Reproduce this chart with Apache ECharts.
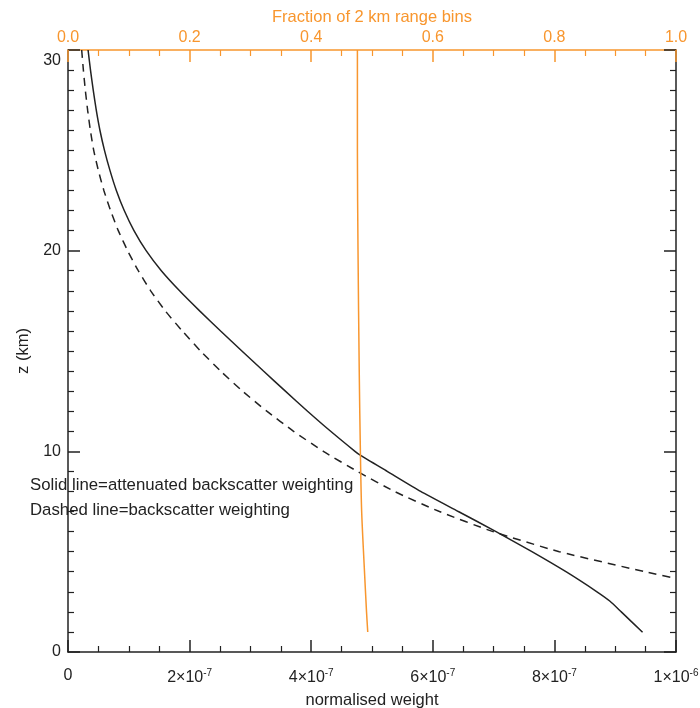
<!DOCTYPE html>
<html>
<head>
<meta charset="utf-8">
<script src="https://cdn.jsdelivr.net/npm/echarts@6/dist/echarts.min.js"></script>
<style>
  html, body { margin: 0; padding: 0; background: #fff; }
  #chart { width: 700px; height: 708px; }
</style>
</head>
<body>
<div id="chart"></div>
<script>
// weights are in units of 1e-7, heights in km
const solidZ = [30, 29, 28, 27, 26, 25, 24, 23, 22, 21, 20, 19, 18, 17, 16, 15, 14, 13, 12, 11, 10, 9.82, 9, 8, 7, 6, 5, 4, 3, 2.54, 2, 0.98]
const solidW = [0.33, 0.37, 0.415, 0.465, 0.525, 0.60, 0.69, 0.795, 0.925, 1.085, 1.285, 1.535, 1.835, 2.165, 2.51, 2.86, 3.215, 3.575, 3.94, 4.32, 4.72, 4.80, 5.25, 5.80, 6.42, 7.04, 7.63, 8.19, 8.70, 8.91, 9.10, 9.45]

const dashedZ = [30, 29, 28, 27, 26, 25, 24, 23, 22, 21, 20, 19, 18, 17, 16, 15, 14, 13, 12, 11, 10, 9, 8, 7, 6, 5, 4, 3.66]
const dashedW = [0.225, 0.253, 0.285, 0.323, 0.368, 0.423, 0.499, 0.59, 0.70, 0.827, 0.98, 1.156, 1.36, 1.60, 1.88, 2.18, 2.51, 2.87, 3.27, 3.71, 4.20, 4.76, 5.37, 6.11, 6.99, 8.08, 9.49, 10.0]

const fracZ = [1.0, 2, 4.4, 7, 9.8, 14, 20, 25, 30]
const fracV = [0.493, 0.491, 0.487, 0.483, 0.481, 0.479, 0.477, 0.476, 0.476]

const weightTicks = [0, 2, 4, 6, 8, 10]
const weightTickLabels = ['0', '2×10^-7', '4×10^-7', '6×10^-7', '8×10^-7', '1×10^-6']

const orange = '#F8962E'
const ink = '#222'
const font = 'Liberation Sans, Arial, Helvetica, sans-serif'

function pairs(xs, ys) {
  return xs.map((x, i) => [x, ys[i]])
}

function weightLabel(v) {
  const i = weightTicks.indexOf(Math.round(v))
  if (i < 0) return ''
  const parts = weightTickLabels[i].split('^')
  return parts.length > 1 ? parts[0] + '{e|' + parts[1] + '}' : parts[0]
}

function frame(color) {
  return {
    nameMoveOverlap: false,
    axisLine: { show: true, onZero: false, lineStyle: { color: color, width: 1.5 } },
    axisTick: { show: true, inside: true, length: 12, lineStyle: { color: color, width: 1.5 } },
    splitLine: { show: false }
  }
}

const chart = echarts.init(document.getElementById('chart'))

chart.setOption({
  animation: false,
  textStyle: { fontFamily: font },
  grid: { left: 68, right: 24, top: 50, bottom: 56, outerBoundsMode: 'none', containLabel: false },
  xAxis: [{
    type: 'value',
    position: 'bottom',
    min: 0,
    max: 10,
    interval: 2,
    name: 'normalised weight',
    nameLocation: 'middle',
    nameGap: 40,
    nameTextStyle: { color: ink, fontSize: 16.5 },
    ...frame(ink),
    minorTick: { show: true, splitNumber: 4, length: 6, lineStyle: { color: ink, width: 1.2 } },
    axisLabel: {
      color: ink,
      fontSize: 16,
      margin: 16,
      formatter: weightLabel,
      rich: {
        e: { fontSize: 10, verticalAlign: 'top', padding: [0, 0, 9, 0] }
      }
    }
  }, {
    type: 'value',
    position: 'top',
    min: 0,
    max: 1,
    interval: 0.2,
    name: 'Fraction of 2 km range bins',
    nameLocation: 'middle',
    nameGap: 24,
    nameTextStyle: { color: orange, fontSize: 16.5 },
    ...frame(orange),
    minorTick: { show: true, splitNumber: 4, length: 6, lineStyle: { color: orange, width: 1.2 } },
    axisLabel: {
      color: orange,
      fontSize: 16,
      margin: 4,
      formatter: v => v.toFixed(1)
    }
  }],
  yAxis: [{
    type: 'value',
    position: 'left',
    min: 0,
    max: 30,
    interval: 10,
    name: 'z (km)',
    nameLocation: 'middle',
    nameGap: 36,
    nameTextStyle: { color: ink, fontSize: 16.5 },
    ...frame(ink),
    minorTick: { show: true, splitNumber: 10, length: 6, lineStyle: { color: ink, width: 1.2 } },
    axisLabel: {
      color: ink,
      fontSize: 16,
      margin: 7,
      formatter: v => v === 30 ? '{t|30}' : String(v),
      rich: { t: { fontSize: 16, padding: [22, 0, 0, 0] } }
    }
  }, {
    type: 'value',
    position: 'right',
    min: 0,
    max: 30,
    interval: 10,
    ...frame(ink),
    minorTick: { show: true, splitNumber: 10, length: 6, lineStyle: { color: ink, width: 1.2 } },
    axisLabel: { show: false }
  }],
  series: [{
    name: 'attenuated backscatter weighting',
    type: 'line',
    xAxisIndex: 0,
    yAxisIndex: 0,
    data: pairs(solidW, solidZ),
    smooth: 0.2,
    symbol: 'none',
    lineStyle: { color: ink, width: 1.5, type: 'solid' }
  }, {
    name: 'backscatter weighting',
    type: 'line',
    xAxisIndex: 0,
    yAxisIndex: 0,
    data: pairs(dashedW, dashedZ),
    smooth: 0.2,
    symbol: 'none',
    lineStyle: { color: ink, width: 1.5, type: [8, 6] }
  }, {
    name: 'fraction',
    type: 'line',
    xAxisIndex: 1,
    yAxisIndex: 0,
    data: pairs(fracV, fracZ),
    smooth: 0.3,
    symbol: 'none',
    lineStyle: { color: orange, width: 1.5 }
  }],
  graphic: [{
    type: 'text',
    left: 30,
    top: 477,
    style: { text: 'Solid line=attenuated backscatter weighting', fill: ink, font: '16.8px ' + font }
  }, {
    type: 'text',
    left: 30,
    top: 502,
    style: { text: 'Dashed line=backscatter weighting', fill: ink, font: '16.8px ' + font }
  }]
})
</script>
</body>
</html>
